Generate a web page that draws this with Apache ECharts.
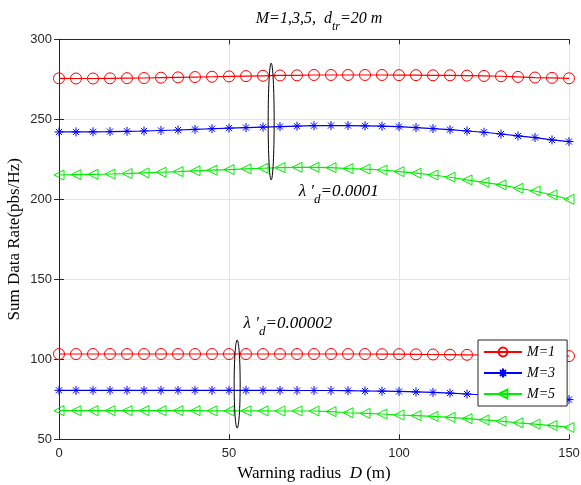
<!DOCTYPE html>
<html>
<head>
<meta charset="utf-8">
<script src="https://cdn.jsdelivr.net/npm/echarts@6/dist/echarts.min.js"></script>
<style>
  html, body { margin: 0; padding: 0; background: #fff; }
  #chart { width: 581px; height: 485px; }
</style>
</head>
<body>
<div id="chart"></div>
<script>
// Warning radius D (m), sampled every 5 m
const radius = [0,5,10,15,20,25,30,35,40,45,50,55,60,65,70,75,80,85,90,95,100,105,110,115,120,125,130,135,140,145,150];

// Sum data rate, lambda'_d = 0.0001
const rateM1High = [275.6,275.5,275.5,275.6,275.7,275.8,276.0,276.2,276.4,276.6,276.8,277.0,277.2,277.4,277.5,277.7,277.7,277.7,277.7,277.7,277.6,277.6,277.5,277.5,277.3,277.1,276.9,276.5,276.1,275.9,275.6];
const rateM3High = [242.1,242.1,242.2,242.3,242.5,242.7,243.0,243.3,243.7,244.1,244.5,244.8,245.1,245.4,245.7,246.0,246.1,246.1,245.9,245.7,245.4,244.8,244.2,243.5,242.7,241.9,240.8,239.6,238.6,237.1,236.1];
const rateM5High = [215.2,215.4,215.6,215.8,216.1,216.5,216.9,217.3,217.8,218.2,218.6,219.0,219.4,219.8,220.0,220.0,219.8,219.2,218.9,218.3,217.3,216.3,215.2,213.8,212.1,210.6,209.0,206.9,205.2,202.7,200.0];

// Sum data rate, lambda'_d = 0.00002
const rateM1Low = [103.3,103.3,103.3,103.3,103.3,103.3,103.3,103.3,103.3,103.3,103.3,103.3,103.3,103.3,103.3,103.3,103.3,103.3,103.3,103.2,103.2,103.1,103.0,102.9,102.8,102.7,102.6,102.5,102.3,102.2,102.0];
const rateM3Low = [80.6,80.6,80.6,80.6,80.6,80.6,80.6,80.6,80.6,80.6,80.6,80.6,80.6,80.6,80.5,80.5,80.5,80.4,80.2,80.1,79.9,79.6,79.3,78.9,78.3,77.7,77.1,76.4,75.8,75.2,74.8];
const rateM5Low = [67.9,67.9,67.9,67.9,67.9,67.9,67.9,67.9,67.9,67.8,67.8,67.8,67.8,67.7,67.7,67.7,67.3,66.6,66.2,65.8,65.2,64.8,64.3,63.7,62.9,62.1,61.3,60.3,59.5,58.6,57.4];

const xTicks = [0, 50, 100, 150];
const yTicks = [50, 100, 150, 200, 250, 300];
const legendNames = ['M=1', 'M=3', 'M=5'];

// Ellipses grouping the curves of each density: [D, centre rate, half span in rate]
const highGroup = { d: 62.4, mid: 248.6, half: 36.5, label: '0.0001', labelAt: [70.5, 203.5] };
const lowGroup  = { d: 52.4, mid: 84.5, half: 27.5, label: '0.00002', labelAt: [54.3, 120.5] };

const RED = '#ff0000', BLUE = '#0000ff', GREEN = '#00ee00';
const SERIF = '"Liberation Serif", "Times New Roman", serif';
const SANS = '"Liberation Sans", Arial, Helvetica, sans-serif';

const starPath = 'path://M5,0L5,10M0,5L10,5M1.6,1.6L8.4,8.4M1.6,8.4L8.4,1.6';
const leftTriPath = 'path://M0,5L10,0L10,10Z';
const HOLLOW = 'rgba(255,255,255,0)';

function pairs(values) { return radius.map((d, i) => [d, values[i]]); }

function curve(name, values, color, symbol, size) {
  return {
    name: name,
    type: 'line',
    data: pairs(values),
    symbol: symbol,
    symbolSize: size,
    symbolKeepAspect: true,
    showAllSymbol: true,
    lineStyle: { color: color, width: 1.2 },
    itemStyle: { color: HOLLOW, borderColor: color, borderWidth: 1 },
    emphasis: { disabled: true },
    silent: true,
    z: 3
  };
}

const chart = echarts.init(document.getElementById('chart'), null, { renderer: 'canvas' });

const axisLine = { show: true, lineStyle: { color: '#262626', width: 1 } };
const tickIn = { show: true, inside: true, length: 5, lineStyle: { color: '#262626' } };

chart.setOption({
  animation: false,
  backgroundColor: '#fff',
  title: {
    text: '{i|M=1,3,5,  d}{s|tr}{i|=20 m}',
    left: 314,
    textAlign: 'center',
    top: 6,
    textStyle: {
      fontWeight: 'normal',
      rich: {
        i: { fontFamily: SERIF, fontStyle: 'italic', fontWeight: 'normal', fontSize: 16, color: '#000', lineHeight: 20, verticalAlign: 'top' },
        s: { fontFamily: SERIF, fontStyle: 'italic', fontWeight: 'normal', fontSize: 12, color: '#000', lineHeight: 20, verticalAlign: 'top', padding: [10, 0, 0, 0] }
      }
    }
  },
  grid: { left: 59, right: 12, top: 39.3, bottom: 45.7, show: false, containLabel: false, outerBoundsMode: 'none' },
  legend: {
    data: legendNames,
    orient: 'vertical',
    left: 478,
    top: 340,
    itemWidth: 38,
    itemHeight: 11,
    itemGap: 7,
    padding: [5, 12, 5, 5],
    backgroundColor: '#fff',
    borderColor: '#262626',
    borderWidth: 1,
    borderRadius: 0,
    itemStyle: { color: HOLLOW },
    textStyle: { fontFamily: SERIF, fontStyle: 'italic', fontSize: 14, color: '#000' },
    selectedMode: false
  },
  xAxis: [{
    type: 'value', min: 0, max: 150, interval: 50,
    axisLine: axisLine, axisTick: tickIn,
    axisLabel: { fontFamily: SANS, fontSize: 13, color: '#262626', margin: 8,
      formatter: v => xTicks.includes(v) ? String(v) : '' },
    splitLine: { show: true, lineStyle: { color: '#e3e3e3', width: 1 } },
    name: '{t|Warning radius  }{d|D}{t| (m)}',
    nameLocation: 'middle',
    nameGap: 26,
    nameTextStyle: {
      rich: {
        t: { fontFamily: SERIF, fontSize: 17, color: '#000' },
        d: { fontFamily: SERIF, fontSize: 17, fontStyle: 'italic', color: '#000' }
      }
    }
  }, {
    type: 'value', position: 'top', min: 0, max: 150, interval: 50,
    axisLine: axisLine, axisTick: tickIn, axisLabel: { show: false }, splitLine: { show: false }
  }],
  yAxis: [{
    type: 'value', min: 50, max: 300, interval: 50,
    axisLine: axisLine, axisTick: tickIn,
    axisLabel: { fontFamily: SANS, fontSize: 13, color: '#262626', margin: 7,
      formatter: v => yTicks.includes(v) ? String(v) : '' },
    splitLine: { show: true, lineStyle: { color: '#e3e3e3', width: 1 } },
    name: 'Sum Data Rate(pbs/Hz)',
    nameLocation: 'middle',
    nameGap: 36,
    nameMoveOverlap: false,
    nameTextStyle: { fontFamily: SERIF, fontSize: 17, color: '#000' }
  }, {
    type: 'value', position: 'right', min: 50, max: 300, interval: 50,
    axisLine: axisLine, axisTick: tickIn, axisLabel: { show: false }, splitLine: { show: false }
  }],
  series: [
    curve('M=1', rateM1High, RED, 'circle', 11),
    curve('M=3', rateM3High, BLUE, starPath, 9),
    curve('M=5', rateM5High, GREEN, leftTriPath, 10),
    curve('M=1', rateM1Low, RED, 'circle', 11),
    curve('M=3', rateM3Low, BLUE, starPath, 9),
    curve('M=5', rateM5Low, GREEN, leftTriPath, 10)
  ]
});

// Ellipses and density labels placed in data coordinates
function groupGraphics(g) {
  const c = chart.convertToPixel({ gridIndex: 0 }, [g.d, g.mid]);
  const top = chart.convertToPixel({ gridIndex: 0 }, [g.d, g.mid + g.half]);
  const lab = chart.convertToPixel({ gridIndex: 0 }, g.labelAt);
  return [{
    type: 'ellipse',
    shape: { cx: c[0], cy: c[1], rx: 3, ry: c[1] - top[1] },
    style: { fill: 'none', stroke: '#000', lineWidth: 1 },
    z: 10, silent: true
  }, {
    type: 'text',
    x: lab[0], y: lab[1],
    style: {
      text: '{l|λ ′}{s|d}{l|=' + g.label + '}',
      verticalAlign: 'middle',
      rich: {
        l: { fontFamily: SERIF, fontStyle: 'italic', fontSize: 17, fill: '#000', lineHeight: 22, verticalAlign: 'top' },
        s: { fontFamily: SERIF, fontStyle: 'italic', fontSize: 13, fill: '#000', lineHeight: 22, verticalAlign: 'top', padding: [10, 0, 0, 0] }
      }
    },
    z: 10, silent: true
  }];
}

chart.setOption({ graphic: [].concat(groupGraphics(highGroup), groupGraphics(lowGroup)) });
</script>
</body>
</html>
